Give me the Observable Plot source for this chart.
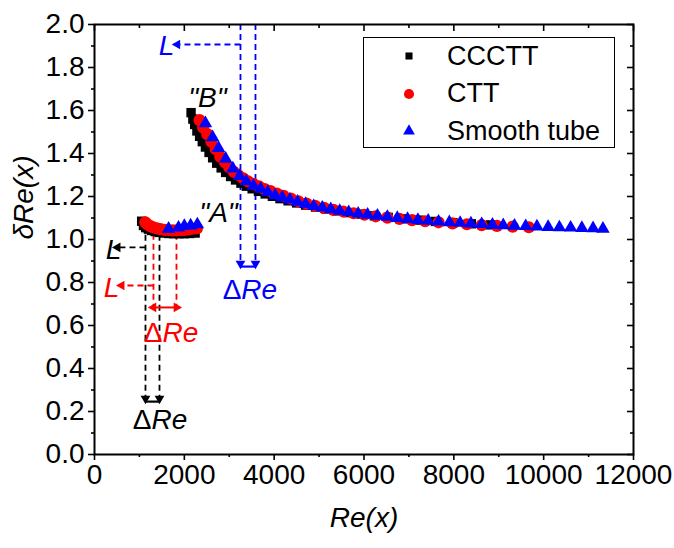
<!DOCTYPE html>
<html><head><meta charset="utf-8">
<script src="https://cdn.jsdelivr.net/npm/d3@7"></script>
<script src="https://cdn.jsdelivr.net/npm/@observablehq/plot@0.6"></script>
<style>
body{margin:0;background:#fff;}
#wrap{position:relative;width:674px;height:548px;font-family:"Liberation Sans",Arial,sans-serif;}
#legend{position:absolute;left:363px;top:37px;width:250px;height:109px;border:1.5px solid #000;background:#fff;}
.row{position:absolute;left:0;height:36px;display:flex;align-items:center;font-size:27px;color:#000;}
.row svg{position:absolute;left:33px;}
.row span{position:absolute;left:83px;white-space:nowrap;}
</style></head>
<body><div id="wrap"></div>
<script>
// ---- data ----
const seriesNames = ["CCCTT", "CTT", "Smooth tube"];
const seriesColors = ["#000000", "#ff0000", "#0000ff"];

const cccttRe = [1050,1090,1140,1200,1270,1350,1440,1540,1650,1760,1880,2000,2120,2240,
  2150,2190,2230,2280,2340,2400,2470,2550,2630,2720,2820,2920,3030,3140,3260,3380,3510,3650,3800,3960,
  4130,4310,4500,4700,4920,5150,5400,5660,5940,6230,6540,6870,7220,7590,7980,8390,8820];
const cccttV = [1.085,1.065,1.055,1.048,1.042,1.037,1.033,1.03,1.028,1.027,1.027,1.027,1.028,1.03,
  1.59,1.56,1.535,1.505,1.48,1.455,1.43,1.405,1.38,1.355,1.333,1.312,1.293,1.277,1.262,1.248,1.236,1.224,1.212,1.201,
  1.19,1.18,1.17,1.16,1.151,1.142,1.133,1.125,1.118,1.11,1.103,1.096,1.09,1.084,1.078,1.073,1.068];

const cttRe = [1130,1180,1240,1310,1390,1470,1560,1650,1740,1830,1920,2010,2100,2190,2280,
  2340,2420,2510,2600,2700,2800,2900,3000,3100,3200,3310,3420,3540,3660,3790,3920,4060,4210,4370,4540,
  4720,4910,5110,5320,5540,5770,6010,6260,6520,6790,7070,7360,7660,7970,8290,8620,8960,9310,9670];
const cttV = [1.08,1.07,1.062,1.056,1.052,1.048,1.045,1.043,1.042,1.042,1.043,1.045,1.047,1.05,1.052,
  1.555,1.52,1.49,1.455,1.42,1.385,1.36,1.335,1.315,1.3,1.285,1.27,1.258,1.247,1.235,1.225,1.214,1.203,1.19,1.178,
  1.167,1.157,1.147,1.138,1.13,1.122,1.115,1.108,1.102,1.096,1.09,1.085,1.08,1.075,1.071,1.067,1.063,1.06,1.057];

const smoothRe = [1650,1870,2000,2140,2290,
  2470,2630,2760,2920,3080,3230,3380,3540,3700,3860,4020,4180,4350,4520,4700,4880,5070,5260,5460,5660,
  5870,6080,6300,6520,6740,6970,7200,7430,7660,7900,8140,8380,8620,8860,9100,9350,9600,9850,10100,10350,
  10600,10850,11100,11320];
const smoothV = [1.05,1.055,1.063,1.065,1.07,
  1.54,1.475,1.425,1.375,1.33,1.295,1.27,1.25,1.235,1.22,1.205,1.195,1.185,1.175,1.165,1.155,1.148,1.14,1.133,1.127,
  1.12,1.115,1.11,1.105,1.1,1.095,1.09,1.087,1.083,1.08,1.077,1.074,1.071,1.068,1.066,1.064,1.062,1.06,1.058,1.056,
  1.055,1.053,1.052,1.05];

// annotation values (black, red, blue)
const guideLeftRe = [1135, 1313, 3250];
const guideRightRe = [1447, 1825, 3584];
const guideTopV = [1.02, 1.025, 2.0];
const guideBottomV = [0.26, 0.684, 0.888];
const lArrowV = [0.963, 0.786, 1.907];
const lArrowTipRe = [470, 560, 1800];
const lLabelRe = [423, 380, 1603];
const lLabelV = [0.949, 0.772, 1.898];
const dReLabelRe = [1470, 1715, 3470];
const dReLabelV = [0.158, 0.567, 0.763];
const pointLabels = ["\"A\"", "\"B\""];
const pointLabelRe = [2760, 2515];
const pointLabelV = [1.121, 1.66];

const xMajor = [0,2000,4000,6000,8000,10000,12000];
const xMinor = [1000,3000,5000,7000,9000,11000];
const yMajor = [0,0.2,0.4,0.6,0.8,1.0,1.2,1.4,1.6,1.8,2.0];
const yMinor = [0.1,0.3,0.5,0.7,0.9,1.1,1.3,1.5,1.7,1.9];

// ---- build tables ----
const mk = (re, v) => re.map((r, i) => ({re: r, v: v[i]}));
const ccctt = mk(cccttRe, cccttV);
const ctt = mk(cttRe, cttV);
const smooth = mk(smoothRe, smoothV);
const guides = [0,1,2].map(i => ({
  c: seriesColors[i], l: guideLeftRe[i], r: guideRightRe[i], top: guideTopV[i], bot: guideBottomV[i],
  la: lArrowV[i], tip: lArrowTipRe[i], lx: lLabelRe[i], ly: lLabelV[i], dx: dReLabelRe[i], dy: dReLabelV[i]
}));
const vLines = guides.flatMap(g => [{c:g.c, x:g.l, y1:g.top, y2:g.bot}, {c:g.c, x:g.r, y1:g.top, y2:g.bot}]);
const downGuides = [guides[0], guides[2]];
const downHeads = downGuides.flatMap(g => [{c:g.c, x:g.l, y:g.bot}, {c:g.c, x:g.r, y:g.bot}]);
const redG = guides[1];
const pLabels = pointLabels.map((t, i) => ({t, x: pointLabelRe[i], y: pointLabelV[i]}));

const dash = "6,4";
const FS = 28;

const chart = Plot.plot({
  width: 674, height: 548,
  marginLeft: 94, marginRight: 41, marginTop: 24, marginBottom: 94,
  x: {domain: [0, 12000], label: null},
  y: {domain: [0, 2], label: null},
  style: {fontFamily: "'Liberation Sans', Arial, sans-serif", fontSize: FS + "px", color: "#000", background: "#fff", overflow: "visible"},
  marks: [
    // guides
    Plot.ruleX(vLines, {x: "x", y1: "y1", y2: "y2", stroke: "c", strokeWidth: 1.8, strokeDasharray: dash}),
    Plot.link(guides, {x1: "l", x2: "tip", y1: "la", y2: "la", stroke: "c", strokeWidth: 1.8, strokeDasharray: dash}),
    Plot.dot(guides, {x: "tip", y: "la", symbol: "triangle", rotate: -90, r: 3.6, fill: "c", stroke: null, dx: 2}),
    Plot.link(downGuides, {x1: "l", x2: "r", y1: "bot", y2: "bot", stroke: "c", strokeWidth: 2.2, dy: 3}),
    Plot.dot(downHeads, {x: "x", y: "y", symbol: "triangle", rotate: 180, r: 3.6, fill: "c", stroke: null}),
    Plot.link([redG], {x1: "l", x2: "r", y1: "bot", y2: "bot", stroke: "c", strokeWidth: 2}),
    Plot.dot([{x: redG.l, y: redG.bot, c: redG.c, a: -90}, {x: redG.r, y: redG.bot, c: redG.c, a: 90}],
      {x: "x", y: "y", symbol: "triangle", rotate: "a", r: 3.6, fill: "c", stroke: null}),
    Plot.text(guides, {x: "lx", y: "ly", text: () => "L", fill: "c", fontStyle: "italic", fontSize: FS}),
    Plot.text(guides, {x: "dx", y: "dy", text: () => "\u0394", fill: "c", fontSize: FS, textAnchor: "end", dx: -9}),
    Plot.text(guides, {x: "dx", y: "dy", text: () => "Re", fill: "c", fontStyle: "italic", fontSize: FS, textAnchor: "start", dx: -9}),
    Plot.text(pLabels, {x: "x", y: "y", text: "t", fontStyle: "italic", fontSize: FS, fill: "#000"}),
    // data
    Plot.dot(ccctt, {x: "re", y: "v", symbol: "square", r: 5.3, fill: seriesColors[0], stroke: null}),
    Plot.dot(ctt, {x: "re", y: "v", symbol: "circle", r: 6.1, fill: seriesColors[1], stroke: null}),
    Plot.dot(smooth, {x: "re", y: "v", symbol: "triangle", r: 5, fill: seriesColors[2], stroke: null}),
    // axes
    Plot.axisX({ticks: xMajor, tickFormat: "d", tickSize: 6, tickPadding: 4, strokeWidth: 1.6, fontSize: FS}),
    Plot.axisX({ticks: xMinor, tickSize: 3, text: null, strokeWidth: 1.6}),
    Plot.axisX({anchor: "top", ticks: xMajor, tickSize: 6, text: null, strokeWidth: 1.6, dy: 6}),
    Plot.axisX({anchor: "top", ticks: xMinor, tickSize: 3, text: null, strokeWidth: 1.6, dy: 3}),
    Plot.axisY({ticks: yMajor, tickFormat: d3.format(".1f"), tickSize: 6, tickPadding: 4, strokeWidth: 1.6, fontSize: FS}),
    Plot.axisY({ticks: yMinor, tickSize: 3, text: null, strokeWidth: 1.6}),
    Plot.axisY({anchor: "right", ticks: yMajor, tickSize: 7, text: null, strokeWidth: 1.6, dx: -7}),
    Plot.axisY({anchor: "right", ticks: yMinor, tickSize: 4, text: null, strokeWidth: 1.6, dx: -4}),
    Plot.frame({stroke: "#000", strokeWidth: 2}),
    Plot.text(["Re(x)"], {frameAnchor: "bottom", dy: 72, fontStyle: "italic", fontSize: FS, fill: "#000"}),
    Plot.text(["\u03b4Re(x)"], {frameAnchor: "left", dx: -70, rotate: -90, fontStyle: "italic", fontSize: FS, fill: "#000"})
  ]
});

const wrap = document.getElementById("wrap");
wrap.appendChild(chart);

// legend
const legend = document.createElement("div");
legend.id = "legend";
const symbols = ["square", "circle", "triangle"];
const symFns = {square: d3.symbolSquare, circle: d3.symbolCircle, triangle: d3.symbolTriangle};
const symSizes = {square: 50, circle: 80, triangle: 60};
seriesNames.forEach((name, i) => {
  const row = document.createElement("div");
  row.className = "row";
  row.style.top = (0 + i * 37.5) + "px";
  const path = d3.symbol(symFns[symbols[i]], symSizes[symbols[i]])();
  row.innerHTML = `<svg width="24" height="24" viewBox="-12 -12 24 24"><path d="${path}" fill="${seriesColors[i]}"/></svg><span>${name}</span>`;
  legend.appendChild(row);
});
wrap.appendChild(legend);
</script>
</body></html>
